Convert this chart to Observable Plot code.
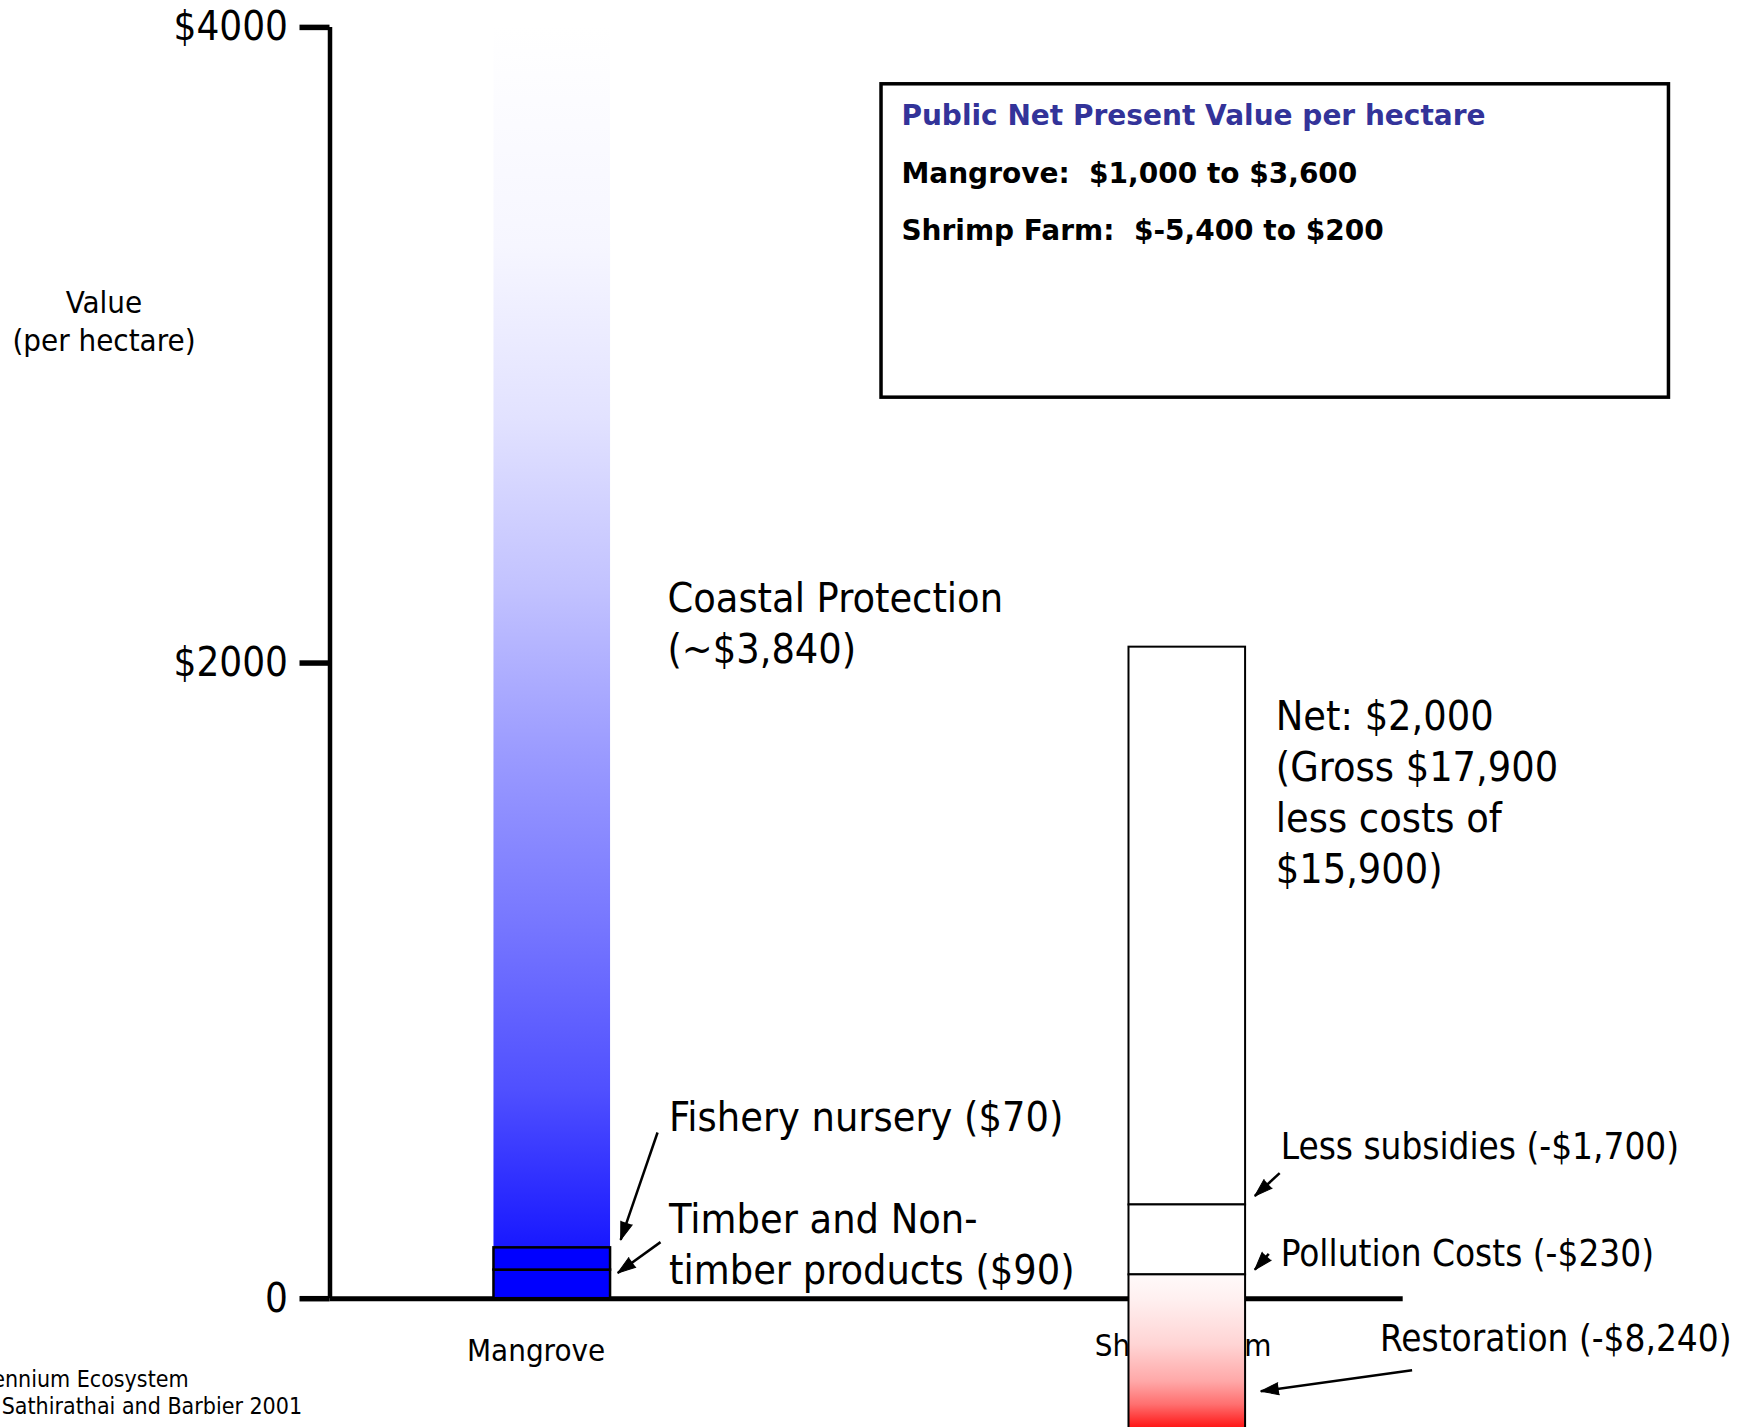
<!DOCTYPE html>
<html>
<head>
<meta charset="utf-8">
<script src="https://cdn.jsdelivr.net/npm/d3@7"></script>
<script src="https://cdn.jsdelivr.net/npm/@observablehq/plot@0.6"></script>
<style>
  html, body { margin: 0; padding: 0; background: #fff; overflow: hidden; }
  svg { overflow: hidden; }
</style>
</head>
<body>
<div id="chart"></div>
<script>
// ---------- data ----------
const categories = ["Mangrove", "Shrimp Farm"];
const mangroveParts = ["Timber and Non-timber products", "Fishery nursery", "Coastal Protection"];
const mangroveValues = [90, 70, 3840];
const shrimpParts = ["Less subsidies", "Pollution Costs", "Restoration"];
const shrimpTop = 2050;                 // top of the shrimp-farm column as drawn
const shrimpDeductions = [1755, 220, 8240];
const yTicks = [0, 2000, 4000];
const yTickLabels = ["0", "$2000", "$4000"];
const boxLines = ["Public Net Present Value per hectare", "Mangrove:  $1,000 to $3,600", "Shrimp Farm:  $-5,400 to $200"];

// ---------- layout ----------
const W = 1752, H = 1427;
const xDomain = [0.65, 2.34], xRange = [329.5, 1402.7];
const yDomain = [0, 4000], yRange = [1298.2, 26.9];
const half = 0.0918;
const sx = Plot.scale({x: {domain: xDomain, range: xRange}});
const sy = Plot.scale({y: {domain: yDomain, range: yRange}});

// stacked segments
let accM = 0;
const mangrove = mangroveValues.map((v, i) => {
  const s = {part: mangroveParts[i], x: 1, y1: accM, y2: accM + v};
  accM += v; return s;
});
let levelS = shrimpTop;
const shrimp = shrimpDeductions.map((v, i) => {
  const s = {part: shrimpParts[i], x: 2, y1: levelS - v, y2: levelS};
  levelS -= v; return s;
});
const restorationTop = shrimp[2].y2;

// annotation arrows (data coordinates)
const arrows = [
  {x1: 1.1658, y1: 523, x2: 1.1077, y2: 185},
  {x1: 1.1705, y1: 178, x2: 1.1031, y2: 81},
  {x1: 2.1455, y1: 395, x2: 2.1063, y2: 323},
  {x1: 2.1283, y1: 141, x2: 2.1063, y2: 91},
  {x1: 2.3540, y1: -225, x2: 2.1157, y2: -291}
].map(d => {
  const dx = sx.apply(d.x2) - sx.apply(d.x1);
  const dy = sy.apply(d.y2) - sy.apply(d.y1);
  return {...d, angle: Math.atan2(dx, -dy) * 180 / Math.PI};
});

const blueStops = [[0, "#ffffff"], [0.18, "#f6f6ff"], [0.32, "#e2e2ff"], [0.46, "#c2c2ff"], [0.59, "#9c9cff"], [0.73, "#7878ff"], [0.87, "#5050ff"], [1, "#1818ff"]];
const redStops = [[0, "#fffafa"], [0.16, "#fff0f0"], [0.46, "#ffd4d4"], [0.7, "#ffa8a8"], [0.85, "#ff7070"], [1, "#ff1818"]];

const defs = () => {
  const d = d3.create("svg:defs");
  const g1 = d.append("linearGradient").attr("id", "mangroveGrad")
    .attr("x1", 0).attr("y1", 0).attr("x2", 0).attr("y2", 1);
  blueStops.forEach(([o, c]) => g1.append("stop").attr("offset", o).attr("stop-color", c));
  const g2 = d.append("linearGradient").attr("id", "restorationGrad")
    .attr("gradientUnits", "userSpaceOnUse")
    .attr("x1", 0).attr("x2", 0).attr("y1", sy.apply(restorationTop)).attr("y2", H);
  redStops.forEach(([o, c]) => g2.append("stop").attr("offset", o).attr("stop-color", c));
  return d.node();
};

const bigFont = 41, midFont = 36.6, smallFont = 31;
const boxFont = "'DejaVu Sans', sans-serif";

const chart = Plot.plot({
  width: W, height: H,
  marginLeft: xRange[0], marginRight: W - xRange[1],
  marginTop: yRange[1], marginBottom: H - yRange[0],
  style: {fontFamily: "'DejaVu Sans Condensed', sans-serif", background: "white", color: "black"},
  x: {domain: xDomain, range: xRange, axis: null},
  y: {domain: yDomain, range: yRange, axis: null},
  marks: [
    defs,
    // caption
    Plot.text(["Source: Millennium Ecosystem"], {x: 0.4274, y: -254, textAnchor: "end", fontSize: 23}),
    Plot.text(["Sathirathai and Barbier 2001"], {x: 0.6061, y: -341, textAnchor: "end", fontSize: 23}),
    // y axis title
    Plot.text(["Value\n(per hectare)"], {x: 0.2941, y: 3079, fontSize: smallFont, lineHeight: 1.23}),
    // category labels
    Plot.text([categories[0]], {x: 0.9745, y: -166, fontSize: smallFont}),
    Plot.text([categories[1]], {x: 1.9935, y: -149, fontSize: smallFont}),
    // axes lines
    Plot.ruleY([0], {stroke: "black", strokeWidth: 5}),
    Plot.ruleX([xDomain[0]], {y1: yDomain[0], y2: yDomain[1], stroke: "black", strokeWidth: 4.5}),
    Plot.axisY({ticks: yTicks, tickFormat: d => yTickLabels[yTicks.indexOf(d)], tickSize: 30, tickPadding: 12,
      strokeWidth: 5.5, fontSize: 40, label: null}),
    // mangrove column
    Plot.rect(mangrove.slice(2), {x1: d => d.x - half, x2: d => d.x + half, y1: "y1", y2: "y2", fill: "url(#mangroveGrad)"}),
    Plot.rect(mangrove.slice(0, 2), {x1: d => d.x - half, x2: d => d.x + half, y1: "y1", y2: "y2", fill: "#0000ff", stroke: "black", strokeWidth: 2.5}),
    // shrimp column
    Plot.rect(shrimp.slice(0, 2), {x1: d => d.x - half, x2: d => d.x + half, y1: "y1", y2: "y2", fill: "white", stroke: "black", strokeWidth: 2}),
    Plot.rect(shrimp.slice(2), {x1: d => d.x - half, x2: d => d.x + half, y1: "y1", y2: "y2", fill: "url(#restorationGrad)", stroke: "black", strokeWidth: 2}),
    // annotations
    Plot.text(["Coastal Protection\n(~$3,840)"], {x: 1.1814, y: 2132, textAnchor: "start", fontSize: bigFont, lineHeight: 1.244}),
    Plot.text(["Fishery nursery ($70)"], {x: 1.1840, y: 570, textAnchor: "start", fontSize: bigFont}),
    Plot.text(["Timber and Non-\ntimber products ($90)"], {x: 1.1840, y: 178, textAnchor: "start", fontSize: bigFont, lineHeight: 1.25}),
    Plot.text(["Net: $2,000\n(Gross $17,900\nless costs of\n$15,900)"], {x: 2.1393, y: 1600, textAnchor: "start", fontSize: bigFont, lineHeight: 1.25}),
    Plot.text(["Less subsidies (-$1,700)"], {x: 2.1471, y: 476, textAnchor: "start", fontSize: midFont}),
    Plot.text(["Pollution Costs (-$230)"], {x: 2.1471, y: 141, textAnchor: "start", fontSize: midFont}),
    Plot.text(["Restoration (-$8,240)"], {x: 2.3036, y: -128, textAnchor: "start", fontSize: midFont}),
    Plot.link(arrows, {x1: "x1", y1: "y1", x2: "x2", y2: "y2", stroke: "black", strokeWidth: 2.5}),
    Plot.vector(arrows, {x: "x2", y: "y2", rotate: "angle", length: 18, r: 6, shape: "spike", anchor: "end",
      fill: "black", stroke: "black", strokeWidth: 1}),
    // NPV box
    Plot.rect([0], {x1: 1.5185, x2: 2.7585, y1: 2835, y2: 3821, fill: "white", stroke: "black", strokeWidth: 3.5}),
    Plot.text([boxLines[0]], {x: 1.5498, y: 3721, textAnchor: "start", fontSize: 28, fontWeight: "bold", fontFamily: boxFont, fill: "#333399"}),
    Plot.text([boxLines[1]], {x: 1.5498, y: 3540, textAnchor: "start", fontSize: 28, fontWeight: "bold", fontFamily: boxFont}),
    Plot.text([boxLines[2]], {x: 1.5498, y: 3358, textAnchor: "start", fontSize: 28, fontWeight: "bold", fontFamily: boxFont})
  ]
});
document.getElementById("chart").appendChild(chart);
</script>
</body>
</html>
